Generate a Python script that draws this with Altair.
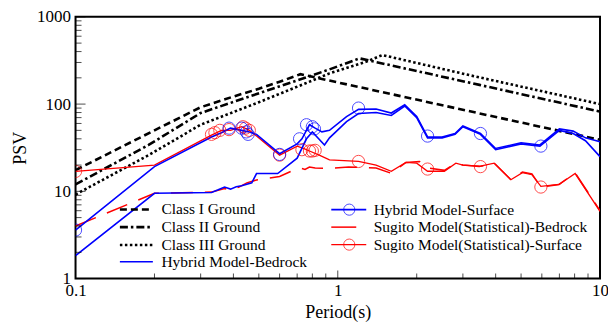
import altair as alt
import pandas as pd

FONT = "Liberation Serif"
BLUE = "#0000ff"
RED = "#ff0000"

# ---------------- data ----------------
class1_x = [0.1, 0.2, 0.3, 0.4, 0.5, 0.6, 0.72, 10]
class1_y = [17.5, 50, 92, 122, 150, 180, 220, 39]

class2_x = [0.1, 0.19, 0.3, 0.46, 0.75, 0.93, 1.21, 3.47, 10]
class2_y = [12, 34, 79, 122, 200, 250, 334, 166, 82]

class3_x = [0.1, 0.19, 0.3, 0.5, 0.75, 0.93, 1.28, 1.48, 3.17, 10]
class3_y = [9.2, 26, 58, 105, 172, 225, 305, 365, 215, 100]

hyb_bed_x = [0.1, 0.2, 0.33, 0.35, 0.37, 0.39, 0.41, 0.43, 0.47, 0.49, 0.59, 0.7, 0.76, 0.8,
             0.89, 0.93, 1.08, 1.2, 1.4, 1.6, 1.8, 2.0, 2.2, 2.5, 2.8, 3.0, 3.5, 4.0, 5.0,
             5.9, 7.0, 7.9, 8.8, 10]
hyb_bed_y = [1.83, 9.5, 9.7, 10.4, 11.2, 10.6, 11.3, 11.6, 12.5, 16, 16, 24, 40, 48,
             34, 41, 63, 78, 80, 74, 95, 70, 41, 41, 45, 55, 45, 30, 35,
             33, 50, 46, 38, 25]

hyb_surf_x = [0.1, 0.2, 0.33, 0.36, 0.39, 0.43, 0.46, 0.49, 0.6, 0.7, 0.73, 0.78, 0.82, 0.87,
              0.93, 1.08, 1.2, 1.4, 1.6, 1.8, 2.0, 2.2, 2.5, 2.8, 3.0, 3.5, 4.0, 5.0, 5.9,
              7.0, 7.9, 8.8, 10]
hyb_surf_y = [3.6, 19.2, 42, 47, 53, 50, 48, 45, 27, 35, 40, 58, 53, 48,
              50, 72, 87, 88, 79, 98, 72, 42, 42, 46, 56, 46, 31, 36, 34,
              52, 49, 41, 37]

sug_bed_x = [0.1, 0.2, 0.33, 0.35, 0.37, 0.39, 0.42, 0.45, 0.49, 0.6, 0.68, 0.72, 0.75, 0.78,
             0.82, 0.93, 1.1, 1.4, 1.6, 1.82, 2.05, 2.2, 2.55, 2.82, 3.0, 3.46, 3.95, 4.57,
             5.06, 5.5, 5.95, 6.98, 8.04, 10]
sug_bed_y = [4.0, 9.5, 9.8, 10.3, 10.8, 10.3, 11.2, 12.5, 13.5, 14.8, 17.5, 18.5, 17.8, 19,
             18.5, 18.4, 19, 18.5, 16.1, 21.4, 22, 18.5, 17.4, 21, 20, 19.2, 21, 13.6,
             16.6, 15.8, 11.2, 12, 16.3, 6.0]

sug_surf_x = [0.1, 0.2, 0.33, 0.36, 0.39, 0.43, 0.46, 0.49, 0.6, 0.7, 0.74, 0.78, 0.85, 0.93,
              1.2, 1.4, 1.6, 1.82, 2.0, 2.2, 2.55, 2.82, 3.0, 3.5, 3.95, 4.57, 5.06, 5.5,
              5.95, 6.98, 8.04, 10]
sug_surf_y = [16.9, 20, 44, 50, 50, 55, 50, 43, 26, 33, 31, 29, 26, 23,
              22, 20, 17, 21.5, 21, 17, 17, 21, 20, 19.5, 21, 13.6, 16.4, 15.5,
              11.4, 12, 16, 5.9]

blue_mk_x = [0.1, 0.385, 0.43, 0.448, 0.455, 0.6, 0.715, 0.76, 0.8, 0.815, 1.2, 2.2, 3.5, 5.95]
blue_mk_y = [3.6, 53, 53, 48, 45, 26.5, 40, 58, 55, 52, 90, 43, 46, 33]
red_mk_x = [0.1, 0.33, 0.34, 0.355, 0.385, 0.435, 0.445, 0.46, 0.6, 0.73, 0.78, 0.8, 0.82,
            1.2, 2.2, 3.5, 5.95]
red_mk_y = [16.9, 45, 47, 50, 51, 55, 53, 50, 26, 30, 29, 29, 29.5, 22, 18, 19.2, 11.2]

x_major = [0.1, 1, 10]
x_minor = [0.2, 0.3, 0.4, 0.5, 0.6, 0.7, 0.8, 0.9, 2, 3, 4, 5, 6, 7, 8, 9]
y_major = [1, 10, 100, 1000]
y_minor = [2, 3, 4, 5, 6, 7, 8, 9, 20, 30, 40, 50, 60, 70, 80, 90,
           200, 300, 400, 500, 600, 700, 800, 900]

legend_labels = ["Class I Ground", "Class II Ground", "Class III Ground",
                 "Hybrid Model-Bedrock", "Hybrid Model-Surface",
                 "Sugito Model(Statistical)-Bedrock", "Sugito Model(Statistical)-Surface"]

# ---------------- chart ----------------
W, H = 525, 262
xscale = alt.Scale(type="log", domain=[0.1, 10])
yscale = alt.Scale(type="log", domain=[1, 1000])
xaxis = alt.Axis(values=x_major, format="~g", ticks=False, domain=False, grid=False,
                 labelFont=FONT, labelFontSize=17, labelColor="black", labelPadding=4,
                 labelFlush=False, titleFont=FONT, titleFontSize=18, titleFontWeight="normal",
                 titleColor="black", titlePadding=5)
yaxis = alt.Axis(values=y_major, format="~g", ticks=False, domain=False, grid=False,
                 labelFont=FONT, labelFontSize=17, labelColor="black", labelPadding=5,
                 labelFlush=False, titleFont=FONT, titleFontSize=18, titleFontWeight="normal",
                 titleColor="black", titlePadding=7)

X = alt.X("period:Q", scale=xscale, axis=xaxis, title="Period(s)")
Y = alt.Y("psv:Q", scale=yscale, axis=yaxis, title="PSV")


def line_layer(xs, ys, color, width, dash=None):
    df = pd.DataFrame({"period": xs, "psv": ys, "idx": range(len(xs))})
    kw = dict(color=color, strokeWidth=width, clip=True)
    if dash:
        kw["strokeDash"] = dash
    return alt.Chart(df).mark_line(**kw).encode(x=X, y=Y, order="idx:Q")


def marker_layer(xs, ys, color):
    df = pd.DataFrame({"period": xs, "psv": ys})
    return alt.Chart(df).mark_point(shape="circle", filled=False, size=150,
                                    strokeWidth=1, color=color, clip=True).encode(x=X, y=Y)


D1 = [7, 4]
D2 = [8, 3, 2.5, 3]
D3 = [2.5, 2.5]
DR = [22, 12]

layers = [
    line_layer(class1_x, class1_y, "black", 2.6, D1),
    line_layer(class2_x, class2_y, "black", 2.6, D2),
    line_layer(class3_x, class3_y, "black", 2.6, D3),
    line_layer(sug_bed_x, sug_bed_y, RED, 1.5, DR),
    line_layer(sug_surf_x, sug_surf_y, RED, 1.3),
    line_layer(hyb_bed_x, hyb_bed_y, BLUE, 1.6),
    line_layer(hyb_surf_x, hyb_surf_y, BLUE, 1.6),
    marker_layer(red_mk_x, red_mk_y, RED),
    marker_layer(blue_mk_x, blue_mk_y, BLUE),
]

# inward ticks
layers.append(alt.Chart(pd.DataFrame({"psv": y_major})).mark_tick(size=10, thickness=1, color="black")
              .encode(y=Y, x=alt.value(5)))
layers.append(alt.Chart(pd.DataFrame({"psv": y_minor})).mark_tick(size=6, thickness=1, color="black")
              .encode(y=Y, x=alt.value(3)))
layers.append(alt.Chart(pd.DataFrame({"period": x_major})).mark_tick(size=8, thickness=1, color="black")
              .encode(x=X, y=alt.value(H - 4)))
layers.append(alt.Chart(pd.DataFrame({"period": x_minor})).mark_tick(size=5, thickness=1, color="black")
              .encode(x=X, y=alt.value(H - 2.5)))

# legend (drawn inside plot)
dummy = pd.DataFrame({"a": [0]})
leg_rows_l = [192.8, 210.5, 228.4, 245.2]
leg_rows_r = [193.0, 210.5, 228.0]
leg_styles = [("black", 2.6, D1), ("black", 2.6, D2), ("black", 2.6, D3), (BLUE, 1.6, None),
              (BLUE, 1.6, None), (RED, 1.5, None), (RED, 1.3, None)]
for i, lab in enumerate(legend_labels):
    color, w, dash = leg_styles[i]
    if i < 4:
        yy = leg_rows_l[i]
        x0, x1, tx = 44.4, 77.4, 86
    else:
        yy = leg_rows_r[i - 4]
        x0, x1, tx = 256, 291, 298.4
        if i == 5:
            x1 = 281
    kw = dict(color=color, strokeWidth=w)
    if dash:
        kw["strokeDash"] = dash
    layers.append(alt.Chart(dummy).mark_rule(**kw).encode(
        x=alt.value(x0), x2=alt.value(x1), y=alt.value(yy)))
    layers.append(alt.Chart(dummy).mark_text(align="left", baseline="middle", font=FONT,
                                             fontSize=15.5, color="black").encode(
        x=alt.value(tx), y=alt.value(yy), text=alt.value(lab)))
    if i in (4, 6):
        layers.append(alt.Chart(dummy).mark_point(shape="circle", filled=False, size=125,
                                                  strokeWidth=1, color=color).encode(
            x=alt.value(274), y=alt.value(yy)))

chart = alt.layer(*layers).properties(
    width=W, height=H,
    autosize=alt.AutoSizeParams(type="none"),
    padding={"left": 67.6, "top": 8.7, "right": 8, "bottom": 44},
    background="white",
).configure_view(stroke="black", strokeWidth=2)

chart.save("out.html", embed_options={"renderer": "svg", "actions": False})
